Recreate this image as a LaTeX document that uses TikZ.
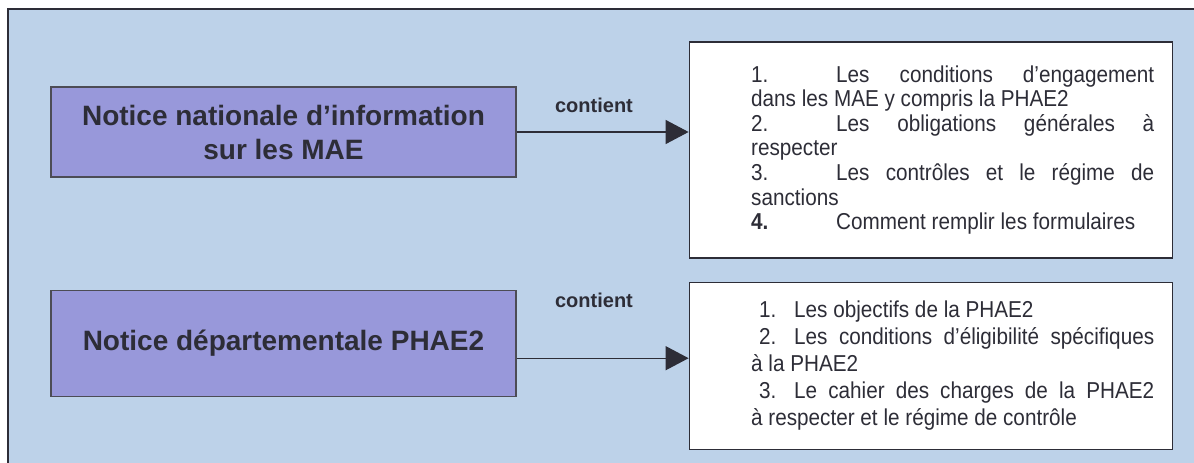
\documentclass[tikz,border=0pt]{standalone}
\usepackage{fontspec}
\setmainfont{Liberation Sans}
\newfontfamily\listfont[FakeStretch=0.9]{Liberation Sans}
\usepackage{tikz}
\usetikzlibrary{positioning,arrows.meta}
\definecolor{framebg}{RGB}{189,210,233}
\definecolor{noticefill}{RGB}{152,152,218}
\definecolor{inkgray}{RGB}{45,45,55}

% one line of a list box: justified (s) or left (l)
\newcommand{\fullline}[1]{\hspace*{44pt}\makebox[403pt][s]{#1}}
\newcommand{\plainline}[1]{\hspace*{44pt}\makebox[403pt][l]{#1}}

\begin{document}
\begin{tikzpicture}[x=1pt, y=1pt,
        notice/.style={draw=inkgray!85, fill=noticefill, line width=1.2pt, minimum width=465pt, align=center, text=inkgray, font=\bfseries\fontsize{28}{34}\selectfont},
        itemlist/.style={draw=inkgray, fill=white, line width=1.2pt, minimum width=483pt, inner sep=0pt, align=left, text=inkgray},
        link/.style={draw=inkgray, line width=1.3pt, -{Triangle[length=23pt,width=24pt]}},
        linklabel/.style={inner sep=0pt, text=inkgray, font=\bfseries\fontsize{20}{24}\selectfont}
    ]
        \useasboundingbox (0,0) rectangle (1194,-463);
        \draw [fill=framebg, draw=inkgray, line width=1.2pt] (8,-9) rectangle (1210,-480);

        \node [notice, minimum height=90pt] (natbox) at (283.5,-132) {Notice nationale d’information\\sur les MAE};
        \node [notice, minimum height=106pt, below=112pt of natbox] (depbox) {Notice départementale PHAE2};

        \node [itemlist, minimum height=216pt, right=172pt of natbox, yshift=-18pt, font=\listfont\fontsize{23}{24.6}\selectfont] (natlist) {%
            \fullline{\makebox[85pt][l]{1.}Les conditions d’engagement}\\
            \plainline{dans les MAE y compris la PHAE2}\\
            \fullline{\makebox[85pt][l]{2.}Les obligations générales à}\\
            \plainline{respecter}\\
            \fullline{\makebox[85pt][l]{3.}Les contrôles et le régime de}\\
            \plainline{sanctions}\\
            \plainline{\makebox[85pt][l]{\textbf{4.}}Comment remplir les formulaires}};
        \node [itemlist, minimum height=167pt, right=172pt of depbox, yshift=-22.5pt, font=\listfont\fontsize{23}{27}\selectfont] (deplist) {%
            \plainline{\hspace{8pt}\makebox[35pt][l]{1.}Les objectifs de la PHAE2}\\
            \fullline{\hspace{8pt}\makebox[35pt][l]{2.}Les conditions d’éligibilité spécifiques}\\
            \plainline{à la PHAE2}\\
            \fullline{\hspace{8pt}\makebox[35pt][l]{3.}Le cahier des charges de la PHAE2}\\
            \plainline{à respecter et le régime de contrôle}};

        \draw [link] (natbox.east) -- (natbox.east -| natlist.west) node [linklabel, pos=0.45, above=19pt] {contient};
        \draw [link] ([yshift=-15pt]depbox.east) -- ([yshift=-15pt]depbox.east -| deplist.west) node [linklabel, pos=0.45, above=50pt] {contient};

    \end{tikzpicture}
\end{document}
